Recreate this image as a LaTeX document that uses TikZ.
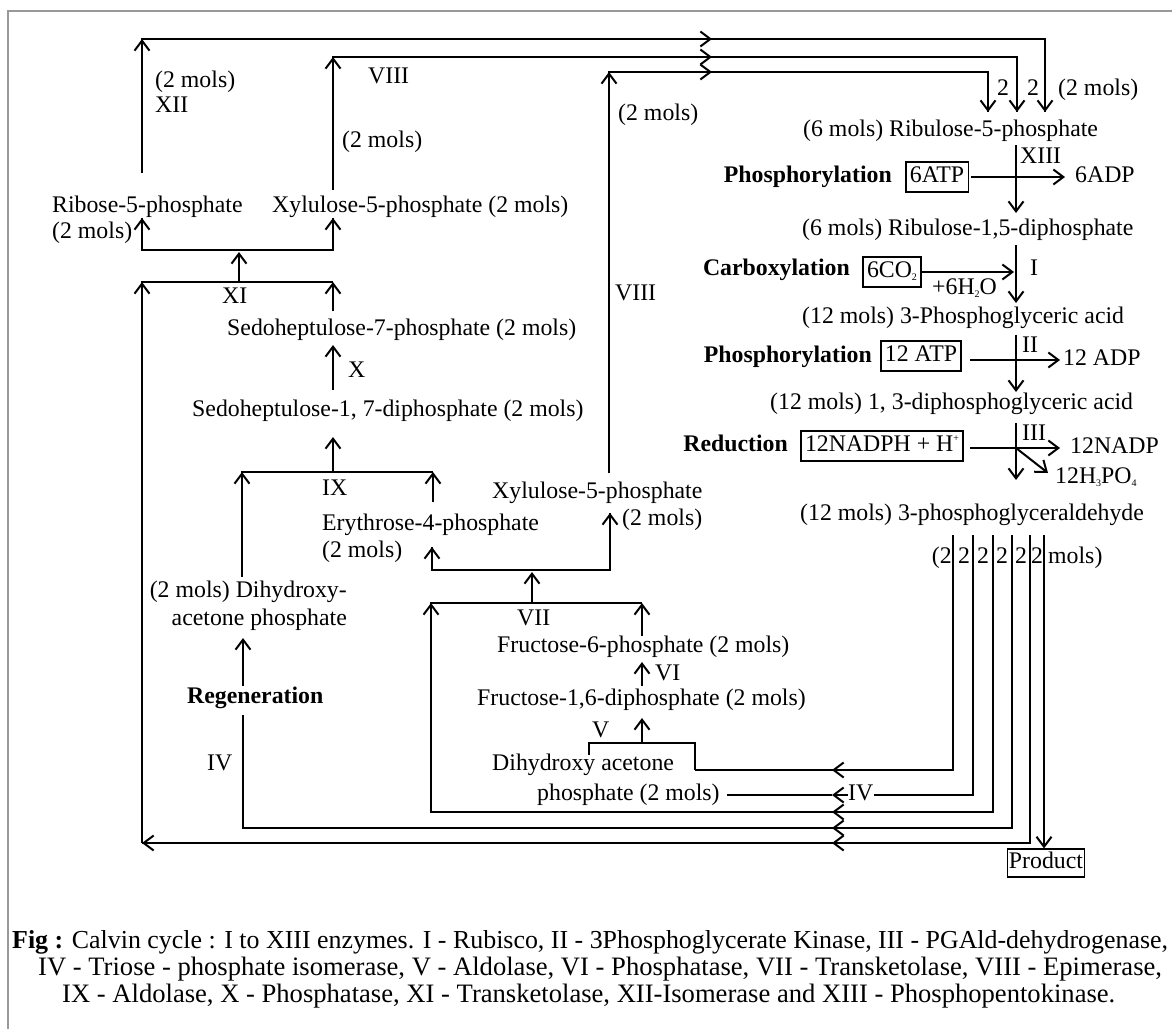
\documentclass[tikz,border=0pt]{standalone}
\usepackage{fontspec}
\setmainfont{Liberation Serif}
\usetikzlibrary{arrows.meta}
\newcommand\mysub[1]{\raisebox{-0.3ex}{\fontsize{10}{10}\selectfont #1}}
\newcommand\mysup[1]{\raisebox{0.9ex}{\fontsize{10}{10}\selectfont #1}}
\begin{document}
\begin{tikzpicture}[x=1pt,y=-1pt,
  every node/.style={font=\fontsize{23.8}{27}\selectfont, inner sep=0pt, text height=16pt, text depth=5pt},
  t/.style={anchor=west},
  te/.style={anchor=east},
  bf/.style={font=\fontsize{23.8}{27}\selectfont\bfseries},
  capt/.style={anchor=west, font=\fontsize{26.6}{30}\selectfont},
  bx/.style={draw, line width=1.2pt, inner xsep=4pt, inner ysep=4.5pt},
  ln/.style={line width=2pt},
  tln/.style={line width=1.4pt},
  ar/.style={line width=2pt, -{Straight Barb[length=10pt,width=15pt]}},
]
\useasboundingbox (0,0) rectangle (1172,1029);
\draw[black!40, line width=1.2pt] (8,1029) -- (8,11) -- (1172,11);

% ---------- left / middle texts ----------
\node[t] (n1) at (155,82) {(2 mols)};
\node[t] (n2) at (155,107) {XII};
\node[t] (n3) at (368,78) {VIII};
\node[t] (n4) at (342,142) {(2 mols)};
\node[t] (n5) at (618,115) {(2 mols)};
\node[t] (rib) at (52,207) {Ribose-5-phosphate};
\node[t] (rib2) at (52,233) {(2 mols)};
\node[t] (xyl) at (272,207) {Xylulose-5-phosphate (2 mols)};
\node[t] (xi) at (222,298) {XI};
\node[t] (s7) at (227,330) {Sedoheptulose-7-phosphate (2 mols)};
\node[t] (xx) at (348,372) {X};
\node[t] (s17) at (192,411) {Sedoheptulose-1, 7-diphosphate (2 mols)};
\node[t] (ix) at (322,490) {IX};
\node[t] (ery) at (322,525) {Erythrose-4-phosphate};
\node[t] (ery2) at (322,552) {(2 mols)};
\node[t] (xylb) at (492,493) {Xylulose-5-phosphate};
\node[t] (xylb2) at (622,520) {(2 mols)};
\node[t] (viii) at (615,295) {VIII};
\node[te] (dha1) at (347,592) {(2 mols) Dihydroxy-};
\node[te] (dha2) at (347,620) {acetone phosphate};
\node[t,bf] (regen) at (187,698) {Regeneration};
\node[t] (iva) at (207,765) {IV};
\node[t] (vii) at (517,620) {VII};
\node[t] (f6p) at (497,647) {Fructose-6-phosphate (2 mols)};
\node[t] (vi) at (655,675) {VI};
\node[t] (f16) at (477,700) {Fructose-1,6-diphosphate (2 mols)};
\node[t] (v) at (592,732) {V};
\node[t] (dhap1) at (492,765) {Dihydroxy acetone};
\node[t] (dhap2) at (537,795) {phosphate (2 mols)};
\node[t] (ivb) at (848,795) {IV};

% ---------- right column texts ----------
\node[t] (two1) at (997,90) {2};
\node[t] (two2) at (1027,90) {2};
\node[t] (twom) at (1058,90) {(2 mols)};
\node[t] (r5p) at (803,131) {(6 mols) Ribulose-5-phosphate};
\node[t] (xiii) at (1020,158) {XIII};
\node[te,bf] (ph1) at (892,177) {Phosphorylation};
\node[bx] (atp) at (937,177) {6ATP};
\node[t] (adp) at (1075,177) {6ADP};
\node[t] (rbp) at (802,230) {(6 mols) Ribulose-1,5-diphosphate};
\node[te,bf] (carb) at (850,270) {Carboxylation};
\node[bx] (co2) at (892,272) {6CO\mysub{2}};
\node[t] (rI) at (1030,270) {I};
\node[t] (h2o) at (932,289) {+6H\mysub{2}O};
\node[t] (pga) at (802,318) {(12 mols) 3-Phosphoglyceric acid};
\node[t] (rII) at (1022,347) {II};
\node[te,bf] (ph2) at (872,357) {Phosphorylation};
\node[bx] (atp12) at (921,356) {12 ATP};
\node[t] (adp12) at (1063,360) {12 ADP};
\node[t] (dpga) at (770,404) {(12 mols) 1, 3-diphosphoglyceric acid};
\node[t] (rIII) at (1022,435) {III};
\node[te,bf] (red) at (788,446) {Reduction};
\node[bx] (nadph) at (882,446) {12NADPH + H\mysup{+}};
\node[t] (nadp) at (1070,448) {12NADP};
\node[t] (h3po4) at (1055,478) {12H\mysub{3}PO\mysub{4}};
\node[t] (gap) at (800,515) {(12 mols) 3-phosphoglyceraldehyde};
\node[te] (m0) at (952,558) {(2};
\node (m1) at (964,558) {2};
\node (m2) at (983,558) {2};
\node (m3) at (1002,558) {2};
\node (m4) at (1021,558) {2};
\node (m5) at (1037,558) {2};
\node[t] (m6) at (1048,558) {mols)};
\node[bx, inner xsep=1.5pt, inner ysep=3.5pt] (prod) at (1046,863) {Product};

% ---------- top loops ----------
\draw[ln] (142,173) -- (142,39) -- (1045,39) -- (1045,112);
\draw[ar] (142,55) -- (142,39);
\draw[ar] (700,39) -- (712,39);
\draw[ar] (1045,100) -- (1045,112);
\draw[ln] (333,190) -- (333,57) -- (1017,57) -- (1017,112);
\draw[ar] (333,73) -- (333,57);
\draw[ar] (700,57) -- (712,57);
\draw[ar] (1017,100) -- (1017,112);
\draw[ln] (609,473) -- (609,72) -- (988,72) -- (988,112);
\draw[ar] (609,88) -- (609,72);
\draw[ar] (700,72) -- (712,72);
\draw[ar] (988,100) -- (988,112);

% ---------- left regeneration ----------
\draw[ln] (142,218) -- (142,250) -- (333,250) -- (333,218);
\draw[ar] (142,232) -- (142,218);
\draw[ar] (333,232) -- (333,218);
\draw[ar] (239,282) -- (239,252);
\draw[ln] (142,843) -- (142,282) -- (333,282);
\draw[ar] (142,298) -- (142,282);
\draw[ar] (333,311) -- (333,282);
\draw[ar] (333,390) -- (333,345);
\draw[ar] (333,472) -- (333,437);
\draw[ln] (242,577) -- (242,472) -- (433,472);
\draw[ar] (242,488) -- (242,472);
\draw[ar] (433,502) -- (433,472);
\draw[ln] (432,547) -- (432,570) -- (610,570) -- (610,513);
\draw[ar] (432,560) -- (432,547);
\draw[ar] (610,527) -- (610,513);
\draw[ar] (532,603) -- (532,572);
\draw[ar] (243,686) -- (243,638);

% ---------- bottom returns ----------
\draw[ln] (993,535) -- (993,812) -- (431,812) -- (431,603) -- (642,603);
\draw[ar] (845,812) -- (832,812);
\draw[ar] (431,619) -- (431,603);
\draw[ar] (642,636) -- (642,603);
\draw[ar] (642,686) -- (642,662);
\draw[tln] (589,755) -- (589,743) -- (695,743) -- (695,770);
\draw[ln] (695,770) -- (953,770) -- (953,535);
\draw[ar] (845,770) -- (832,770);
\draw[ar] (642,743) -- (642,718);
\draw[tln] (973,535) -- (973,795) -- (ivb.east);
\draw[ar] (ivb.west) -- (832,795);
\draw[tln] (832,795) -- ([xshift=7pt]dhap2.east);
\draw[ln] (1012,535) -- (1012,828) -- (243,828) -- (243,715);
\draw[ar] (845,828) -- (832,828);
\draw[ln] (1030,535) -- (1030,843) -- (142,843);
\draw[ar] (845,843) -- (832,843);
\draw[ar] (155,843) -- (142,843);
\draw[ar] (1044,535) -- (prod.north -| 1044,0);

% ---------- right column ----------
\draw[ar] (1016,145) -- (1016,213);
\draw[ar] ([xshift=2pt]atp.east) -- (1065,177);
\draw[ar] (1016,245) -- (1016,303);
\draw[ar] (co2.east) -- (1014,272);
\draw[ar] (1016,335) -- (1016,392);
\draw[ar] (970,360) -- (1060,360);
\draw[ar] (1016,423) -- (1016,480);
\draw[ar] (970,448) -- (1060,448);
\draw[ar] (1016,448) -- (1048,473);

% ---------- caption ----------
\node[capt, font=\fontsize{25.9}{30}\selectfont] (cap1) at (12,943) {\textbf{Fig :} Calvin cycle : I to XIII enzymes. I - Rubisco, II - 3Phosphoglycerate Kinase, III - PGAld-dehydrogenase,};
\node[capt] (cap2) at (38,970) {IV - Triose - phosphate isomerase, V - Aldolase, VI - Phosphatase, VII - Transketolase, VIII - Epimerase,};
\node[capt] (cap3) at (62,997) {IX - Aldolase, X - Phosphatase, XI - Transketolase, XII-Isomerase and XIII - Phosphopentokinase.};
\end{tikzpicture}
\end{document}
